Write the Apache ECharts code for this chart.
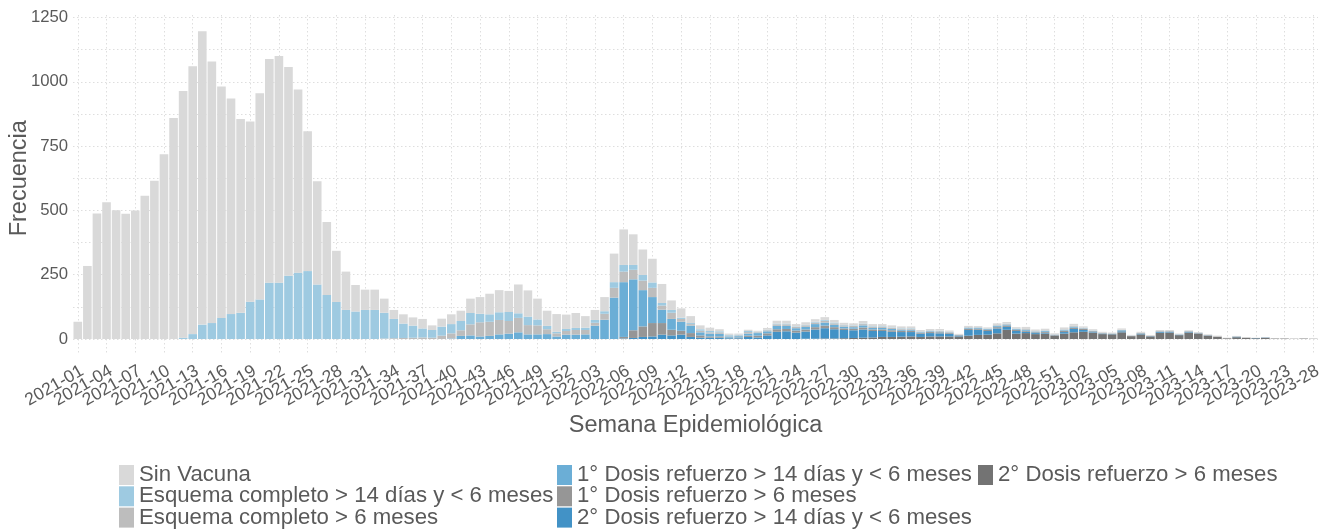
<!DOCTYPE html>
<html>
<head>
<meta charset="utf-8">
<script src="https://cdn.jsdelivr.net/npm/echarts@6/dist/echarts.min.js"></script>
<style>
html,body{margin:0;padding:0;background:#fff;}
#chart{width:1329px;height:531px;}
</style>
</head>
<body>
<div id="chart"></div>
<script>
const weeks = [
"2021-01","2021-02","2021-03","2021-04","2021-05","2021-06","2021-07","2021-08","2021-09","2021-10",
"2021-11","2021-12","2021-13","2021-14","2021-15","2021-16","2021-17","2021-18","2021-19","2021-20",
"2021-21","2021-22","2021-23","2021-24","2021-25","2021-26","2021-27","2021-28","2021-29","2021-30",
"2021-31","2021-32","2021-33","2021-34","2021-35","2021-36","2021-37","2021-38","2021-39","2021-40",
"2021-41","2021-42","2021-43","2021-44","2021-45","2021-46","2021-47","2021-48","2021-49","2021-50",
"2021-51","2021-52",
"2022-01","2022-02","2022-03","2022-04","2022-05","2022-06","2022-07","2022-08","2022-09","2022-10",
"2022-11","2022-12","2022-13","2022-14","2022-15","2022-16","2022-17","2022-18","2022-19","2022-20",
"2022-21","2022-22","2022-23","2022-24","2022-25","2022-26","2022-27","2022-28","2022-29","2022-30",
"2022-31","2022-32","2022-33","2022-34","2022-35","2022-36","2022-37","2022-38","2022-39","2022-40",
"2022-41","2022-42","2022-43","2022-44","2022-45","2022-46","2022-47","2022-48","2022-49","2022-50",
"2022-51","2022-52",
"2023-01","2023-02","2023-03","2023-04","2023-05","2023-06","2023-07","2023-08","2023-09","2023-10",
"2023-11","2023-12","2023-13","2023-14","2023-15","2023-16","2023-17","2023-18","2023-19","2023-20",
"2023-21","2023-22","2023-23","2023-25","2023-26","2023-28"
];

const sinVacuna = [
67,284,488,532,501,487,500,557,615,718,859,
959,1041,1141,1017,900,838,753,701,801,870,881,812,712,544,401,284,199,149,103,79,79,
55,35,36,32,37,18,31,38,40,56,65,80,86,82,112,102,81,59,69,56,
58,45,39,55,111,138,119,99,92,74,37,36,27,15,13,8,5,4,5,4,
7,11,11,9,10,10,11,10,8,8,10,8,8,8,7,7,5,5,6,5,3,5,4,4,7,6,5,8,6,6,4,7,8,5,5,4,3,5,3,4,3,4,4,3,3,3,3,3,2,2,2,1,1,1,1,1,1,1
];
const esqCompMenos6 = [
0,0,0,0,0,0,0,0,0,0,0,
5,19,56,62,82,97,102,145,154,219,219,246,258,264,212,171,144,113,107,113,113,
100,75,56,47,35,30,35,36,36,44,33,29,30,35,18,33,23,13,6,8,
8,9,11,10,22,26,19,22,21,10,11,5,4,6,5,4,3,3,4,2,
2,3,3,2,2,3,3,3,2,2,2,2,2,2,2,2,1,1,1,1,0,1,1,1,1,1,1,1,1,1,0,1,1,1,0,0,0,0,0,0,0,0,0,0,0,0,0,0,0,0,0,0,0,0,0,0,0,0
];
const esqCompMas6 = [
0,0,0,0,0,0,0,0,0,0,0,0,0,0,0,0,0,0,0,0,0,0,0,0,0,0,0,0,0,0,0,0,
2,3,4,5,6,5,13,20,22,43,55,55,56,49,56,36,35,19,12,14,
18,17,11,23,38,41,37,37,36,16,24,11,6,6,5,6,3,3,6,3,
4,6,6,5,6,6,7,6,5,5,5,5,5,4,4,4,3,3,3,2,1,3,2,2,3,3,2,3,2,2,1,3,3,2,1,1,1,1,0,1,0,1,1,0,1,0,0,0,0,0,0,0,0,0,0,0,0,0
];
const ref1Menos6 = [
0,0,0,0,0,0,0,0,0,0,0,0,0,0,0,0,0,0,0,0,0,0,0,0,0,0,0,0,0,0,0,0,0,0,0,0,0,0,0,
2,12,14,10,12,18,21,26,18,18,19,10,17,
17,18,52,75,161,213,198,141,101,52,42,35,29,12,11,10,5,5,8,10,
8,13,12,9,10,12,12,9,7,6,8,6,6,5,4,4,3,3,3,2,1,3,3,3,4,4,3,3,2,3,1,3,3,2,2,1,1,2,1,1,0,1,1,1,1,1,0,0,0,0,0,0,0,0,0,0,0,0
];
const ref1Mas6 = [
0,0,0,0,0,0,0,0,0,0,0,0,0,0,0,0,0,0,0,0,0,0,0,0,0,0,0,0,0,0,0,0,0,0,0,0,0,0,0,0,
0,0,0,0,0,0,0,0,0,0,0,0,0,0,0,0,0,
6,30,41,52,45,22,15,15,9,5,5,2,3,5,7,
8,10,9,8,8,9,10,8,6,6,8,6,6,6,5,5,3,4,4,3,2,4,4,4,5,5,4,4,3,4,2,4,5,4,3,2,1,3,1,2,1,2,2,1,2,2,1,1,0,1,0,0,0,0,0,0,0,0
];
const ref2Menos6 = [
0,0,0,0,0,0,0,0,0,0,0,0,0,0,0,0,0,0,0,0,0,0,0,0,0,0,0,0,0,0,0,0,0,0,0,0,0,0,0,0,
0,0,0,0,0,0,0,0,0,0,0,0,0,0,0,0,0,
2,4,8,10,17,14,17,8,5,5,5,3,3,8,6,
14,28,30,25,28,36,40,36,32,30,32,25,23,20,18,17,12,13,12,10,3,22,20,14,19,11,10,5,4,3,1,6,13,7,2,1,1,4,0,2,1,3,2,1,2,1,1,0,0,2,0,1,1,0,0,0,0,0
];
const ref2Mas6 = [
0,0,0,0,0,0,0,0,0,0,0,0,0,0,0,0,0,0,0,0,0,0,0,0,0,0,0,0,0,0,0,0,0,0,0,0,0,0,0,0,
0,0,0,0,0,0,0,0,0,0,0,0,0,0,0,0,0,0,0,0,0,0,0,0,0,0,0,0,0,0,0,0,0,0,0,0,
1,1,2,2,3,4,5,6,8,8,9,10,8,10,10,10,10,13,16,17,22,36,21,23,19,21,13,21,26,28,25,19,18,26,11,18,10,24,25,15,25,20,13,9,3,7,5,3,5,2,2,1,2,1
];
const yTicks = [0, 250, 500, 750, 1000, 1250];
const labelStep = 3; // one tick label every 3 weeks

const NAMES = {
  sv: 'Sin Vacuna',
  ec1: 'Esquema completo > 14 días y < 6 meses',
  ec2: 'Esquema completo > 6 meses',
  r11: '1° Dosis refuerzo > 14 días y < 6 meses',
  r12: '1° Dosis refuerzo > 6 meses',
  r21: '2° Dosis refuerzo > 14 días y < 6 meses',
  r22: '2° Dosis refuerzo > 6 meses'
};
const COLORS = {
  sv: '#d9d9d9', ec1: '#9ecae1', ec2: '#bdbdbd', r11: '#6baed6',
  r12: '#969696', r21: '#4292c6', r22: '#737373'
};
// bottom to top stacking order
const stackOrder = [
  ['r22', ref2Mas6], ['r21', ref2Menos6], ['r12', ref1Mas6], ['r11', ref1Menos6],
  ['ec2', esqCompMas6], ['ec1', esqCompMenos6], ['sv', sinVacuna]
];

const FONT = 'Liberation Sans, Arial, sans-serif';
const TXT = '#5a5a5a';
const GRIDC = '#dedede';

const chart = echarts.init(document.getElementById('chart'), null, {renderer: 'canvas'});

const halfTicks = [];
for (let j = 0; j <= weeks.length * 2; j++) halfTicks.push('');

const legendCommon = {
  orient: 'vertical', icon: 'rect', itemWidth: 15, itemHeight: 20, itemGap: -0.7,
  top: 464, height: 90, padding: 0, selectedMode: false,
  textStyle: {fontFamily: FONT, fontSize: 22.2, color: TXT}
};

chart.setOption({
  animation: false,
  backgroundColor: '#ffffff',
  grid: [
    {left: 73, right: 11, top: 17.5, bottom: 192, containLabel: false, outerBoundsMode: 'none'},
    {left: 73, right: 11, top: 15, bottom: 177, containLabel: false, outerBoundsMode: 'none'}
  ],
  legend: [
    Object.assign({left: 119, data: [NAMES.sv, NAMES.ec1, NAMES.ec2]}, legendCommon),
    Object.assign({left: 557, data: [NAMES.r11, NAMES.r12, NAMES.r21]}, legendCommon),
    Object.assign({left: 978, data: [NAMES.r22]}, legendCommon)
  ],
  xAxis: [{
    type: 'category',
    gridIndex: 0,
    data: weeks,
    boundaryGap: true,
    axisLine: {show: false},
    axisTick: {show: false},
    splitLine: {show: false},
    axisLabel: {
      interval: 0, rotate: 30, margin: 23,
      align: 'right', verticalAlign: 'top',
      formatter: function (v, i) { return i % labelStep === 0 ? v : ''; },
      fontFamily: FONT, fontSize: 17.5, color: TXT
    },
    name: 'Semana Epidemiológica',
    nameLocation: 'middle',
    nameGap: 75,
    nameMoveOverlap: false,
    nameTextStyle: {fontFamily: FONT, fontSize: 23.5, color: TXT}
  }, {
    type: 'category',
    gridIndex: 1,
    data: halfTicks,
    boundaryGap: false,
    axisLine: {show: false},
    axisTick: {show: false},
    axisLabel: {show: false},
    splitLine: {
      show: true,
      interval: function (idx) { return idx % 6 === 1; },
      lineStyle: {color: GRIDC, type: [1.5, 2.5], width: 1}
    }
  }],
  yAxis: [{
    type: 'value',
    gridIndex: 0,
    min: yTicks[0], max: yTicks[yTicks.length - 1], interval: 250,
    axisLine: {show: false},
    axisTick: {show: false},
    axisLabel: {fontFamily: FONT, fontSize: 16.7, color: TXT, margin: 5,
      formatter: function (v) { return String(v); }},
    splitLine: {show: true, lineStyle: {color: GRIDC, type: [1.5, 2.5], width: 1}},
    minorTick: {show: false, splitNumber: 2},
    minorSplitLine: {show: true, lineStyle: {color: GRIDC, type: [1.5, 2.5], width: 1}},
    name: 'Frecuencia',
    nameLocation: 'middle',
    nameGap: 41,
    nameMoveOverlap: false,
    nameTextStyle: {fontFamily: FONT, fontSize: 23.5, color: TXT}
  }, {
    type: 'value',
    gridIndex: 1,
    min: 0, max: 1,
    show: false
  }],
  series: stackOrder.map(function (s) {
    return {
      type: 'bar',
      name: NAMES[s[0]],
      stack: 'total',
      xAxisIndex: 0,
      yAxisIndex: 0,
      data: s[1],
      barCategoryGap: '10%',
      itemStyle: {color: COLORS[s[0]]},
      emphasis: {disabled: true}
    };
  })
});
</script>
</body>
</html>
